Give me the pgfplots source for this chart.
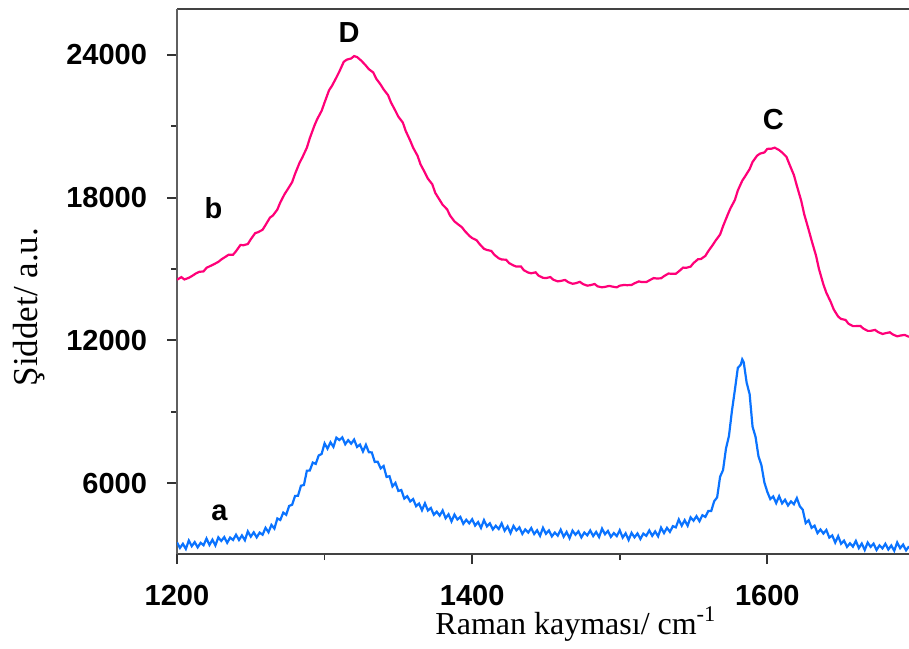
\documentclass[border=0pt]{standalone}
\usepackage{pgfplots}
\pgfplotsset{compat=1.18}
\usetikzlibrary{calc}
\usepackage{fontspec}
\setmainfont{Liberation Serif}
\setsansfont{Liberation Sans}
\definecolor{pinkc}{RGB}{255,0,120}
\definecolor{bluec}{RGB}{10,115,255}
\definecolor{axgray}{RGB}{95,95,95}
\begin{document}
\begin{tikzpicture}
\begin{axis}[
  name=ax,
  scale only axis,
  width=366pt, height=272.5pt,
  xmin=1200, xmax=1696,
  ymin=3020, ymax=25930,
  scaled x ticks=false, scaled y ticks=false,
  axis x line*=box, axis y line*=left,
  xtick pos=bottom, ytick pos=left,
  x axis line style={line width=1pt, color=axgray!70!black},
  y axis line style={line width=1pt, color=axgray},
  xtick={1200,1400,1600}, xticklabels={1200,1400,1600},
  ytick={6000,12000,18000,24000}, yticklabels={6000,12000,18000,24000},
  minor xtick={1300,1500},
  minor ytick={9000,15000,21000},
  tick align=outside,
  major tick length=5pt, minor tick length=3pt,
  every tick/.style={line width=0.9pt, color=black!80},
  ticklabel style={font=\sffamily\bfseries\fontsize{14.5}{16}\selectfont},
  xticklabel style={yshift=-7pt},
  yticklabel style={xshift=-6.5pt},
  clip=true,
]
\addplot[color=bluec, line width=1.1pt] coordinates {
(1200,3510)(1202,3274)(1204,3448)(1206,3232)(1208,3586)(1210,3350)(1212,3520)(1214,3300)(1216,3490)(1218,3390)
(1220,3670)(1222,3400)(1224,3620)(1226,3380)(1228,3720)(1230,3570)(1232,3730)(1234,3490)(1236,3710)(1238,3610)
(1240,3830)(1242,3610)(1244,3800)(1246,3600)(1248,3970)(1250,3750)(1252,3930)(1254,3720)(1256,3920)(1258,3830)
(1260,4120)(1262,3936)(1264,4242)(1266,4088)(1268,4514)(1270,4450)(1272,4760)(1274,4670)(1276,5040)(1278,5090)
(1280,5460)(1282,5470)(1284,5890)(1286,5920)(1288,6520)(1290,6530)(1292,6864)(1294,6808)(1296,7162)(1298,7226)
(1300,7670)(1302,7448)(1304,7716)(1306,7524)(1308,7912)(1310,7810)(1312,7922)(1314,7634)(1316,7806)(1318,7658)
(1320,7830)(1322,7520)(1324,7620)(1326,7330)(1328,7610)(1330,7300)(1332,7290)(1334,6890)(1336,6900)(1338,6620)
(1340,6720)(1342,6260)(1344,6290)(1346,5860)(1348,6010)(1350,5670)(1352,5710)(1354,5350)(1356,5450)(1358,5230)
(1360,5330)(1362,5030)(1364,5140)(1366,4860)(1368,5150)(1370,4850)(1372,4956)(1374,4672)(1376,4798)(1378,4634)
(1380,4850)(1382,4524)(1384,4688)(1386,4392)(1388,4676)(1390,4470)(1392,4580)(1394,4290)(1396,4460)(1398,4310)
(1400,4480)(1402,4216)(1404,4362)(1406,4118)(1408,4444)(1410,4180)(1412,4312)(1414,4054)(1416,4206)(1418,4068)
(1420,4310)(1422,4000)(1424,4180)(1426,3900)(1428,4200)(1430,4010)(1432,4138)(1434,3866)(1436,4054)(1438,3922)
(1440,4110)(1442,3858)(1444,4016)(1446,3784)(1448,4122)(1450,3870)(1452,4010)(1454,3760)(1456,3920)(1458,3790)
(1460,4040)(1462,3748)(1464,3946)(1466,3684)(1468,4002)(1470,3830)(1472,3974)(1474,3718)(1476,3922)(1478,3806)
(1480,4010)(1482,3774)(1484,3948)(1486,3732)(1488,4086)(1490,3850)(1492,3990)(1494,3740)(1496,3900)(1498,3770)
(1500,4020)(1502,3710)(1504,3890)(1506,3610)(1508,3910)(1510,3720)(1512,3886)(1514,3652)(1516,3878)(1518,3784)
(1520,4010)(1522,3784)(1524,3968)(1526,3762)(1528,4126)(1530,3900)(1532,4120)(1534,3950)(1536,4190)(1538,4140)
(1540,4470)(1542,4210)(1544,4440)(1546,4210)(1548,4560)(1550,4420)(1552,4610)(1554,4400)(1556,4650)(1558,4580)
(1560,4830)(1562,4830)(1564,5240)(1566,5400)(1568,6270)(1570,6550)(1572,7460)(1574,7980)(1576,9030)(1578,9910)
(1580,10840)(1582,10980)(1583,11200)(1584,11080)(1586,10220)(1588,9740)(1590,8370)(1592,7950)(1594,7130)(1596,6750)(1598,6030)
(1600,5630)(1602,5330)(1604,5440)(1606,5160)(1608,5450)(1610,5150)(1612,5300)(1614,5060)(1616,5230)(1618,5110)
(1620,5370)(1622,5030)(1624,4880)(1626,4320)(1628,4440)(1630,4120)(1632,4210)(1634,3900)(1636,4050)(1638,3880)
(1640,4030)(1642,3710)(1644,3800)(1646,3500)(1648,3770)(1650,3450)(1652,3580)(1654,3320)(1656,3470)(1658,3330)
(1660,3570)(1662,3270)(1664,3460)(1666,3190)(1668,3500)(1670,3320)(1672,3454)(1674,3188)(1676,3382)(1678,3256)
(1680,3450)(1682,3209)(1684,3378)(1686,3157)(1688,3506)(1690,3265)(1692,3414)(1694,3173)(1696,3342)
};
\addplot[color=pinkc, line width=1.1pt] coordinates {
(1200,14550)(1203,14660)(1205,14560)(1208,14630)(1210,14700)(1213,14820)(1215,14880)(1218,14900)(1220,15050)(1223,15140)(1225,15200)(1228,15300)(1230,15400)(1233,15520)(1235,15600)(1238,15600)(1240,15750)(1243,16010)(1245,16000)(1248,16050)(1250,16250)(1253,16510)(1255,16550)(1258,16650)(1260,16850)(1263,17160)(1265,17250)(1268,17500)(1270,17800)(1273,18160)(1275,18350)(1278,18650)(1280,19000)(1283,19460)(1285,19700)(1288,20100)(1290,20500)(1293,21010)(1295,21300)(1298,21650)(1300,22000)(1303,22510)(1305,22700)(1308,23050)(1310,23300)(1313,23710)(1315,23800)(1318,23850)(1320,23950)(1322,23910)(1325,23750)(1328,23550)(1330,23400)(1333,23260)(1335,23000)(1338,22750)(1340,22550)(1343,22310)(1345,22000)(1348,21650)(1350,21400)(1353,21160)(1355,20800)(1358,20400)(1360,20100)(1363,19760)(1365,19400)(1368,19050)(1370,18800)(1373,18560)(1375,18200)(1378,17900)(1380,17700)(1383,17510)(1385,17250)(1388,17000)(1390,16900)(1393,16760)(1395,16600)(1398,16400)(1400,16300)(1403,16210)(1405,16050)(1408,15850)(1410,15800)(1413,15760)(1415,15600)(1418,15450)(1420,15400)(1423,15390)(1425,15250)(1428,15150)(1430,15100)(1433,15110)(1435,14950)(1438,14850)(1440,14820)(1443,14860)(1445,14720)(1448,14630)(1450,14620)(1453,14660)(1455,14550)(1458,14480)(1460,14500)(1463,14540)(1465,14450)(1468,14380)(1470,14400)(1473,14460)(1475,14370)(1478,14300)(1480,14320)(1483,14370)(1485,14270)(1488,14230)(1490,14250)(1493,14290)(1495,14260)(1498,14230)(1500,14300)(1503,14330)(1505,14320)(1508,14330)(1510,14400)(1513,14480)(1515,14450)(1518,14450)(1520,14520)(1523,14620)(1525,14600)(1528,14610)(1530,14700)(1533,14810)(1535,14800)(1538,14800)(1540,14900)(1543,15060)(1545,15050)(1548,15100)(1550,15250)(1553,15410)(1555,15420)(1558,15550)(1560,15750)(1563,16010)(1565,16200)(1568,16450)(1570,16800)(1573,17260)(1575,17550)(1578,17900)(1580,18300)(1583,18710)(1585,18900)(1588,19200)(1590,19500)(1593,19760)(1595,19850)(1598,19900)(1600,20050)(1603,20060)(1605,20100)(1608,20000)(1610,19900)(1613,19710)(1615,19400)(1618,18950)(1620,18500)(1623,17860)(1625,17300)(1628,16650)(1630,16200)(1633,15560)(1635,15000)(1638,14350)(1640,14000)(1643,13610)(1645,13300)(1648,13000)(1650,12900)(1653,12860)(1655,12700)(1658,12600)(1660,12600)(1663,12610)(1665,12500)(1668,12400)(1670,12400)(1673,12440)(1675,12350)(1678,12270)(1680,12300)(1683,12340)(1685,12250)(1688,12170)(1690,12200)(1693,12230)(1696,12150)
};
\node[font=\sffamily\bfseries\fontsize{14.5}{16}\selectfont] at (axis cs:1316.6,24923) {D};
\node[font=\sffamily\bfseries\fontsize{14.5}{16}\selectfont] at (axis cs:1604,21272) {C};
\node[font=\sffamily\bfseries\fontsize{14.5}{16}\selectfont] at (axis cs:1224.7,17538) {b};
\node[font=\sffamily\bfseries\fontsize{14.5}{16}\selectfont] at (axis cs:1228.8,4741) {a};
\end{axis}
\node[anchor=base, font=\fontsize{16}{18}\selectfont] at ([shift={(0pt,-40pt)}]$(ax.south west)!0.545!(ax.south east)$) {Raman kayması/ cm\textsuperscript{-1}};
\node[anchor=base, rotate=90, font=\fontsize{17.5}{19}\selectfont] at ([shift={(-69.5pt,0pt)}]$(ax.south west)!0.453!(ax.north west)$) {Şiddet/ a.u.};
\pgfresetboundingbox
\path ([shift={(-88.5pt,-47pt)}]ax.south west) rectangle ([shift={(0pt,4.5pt)}]ax.north east);
\end{tikzpicture}
\end{document}
